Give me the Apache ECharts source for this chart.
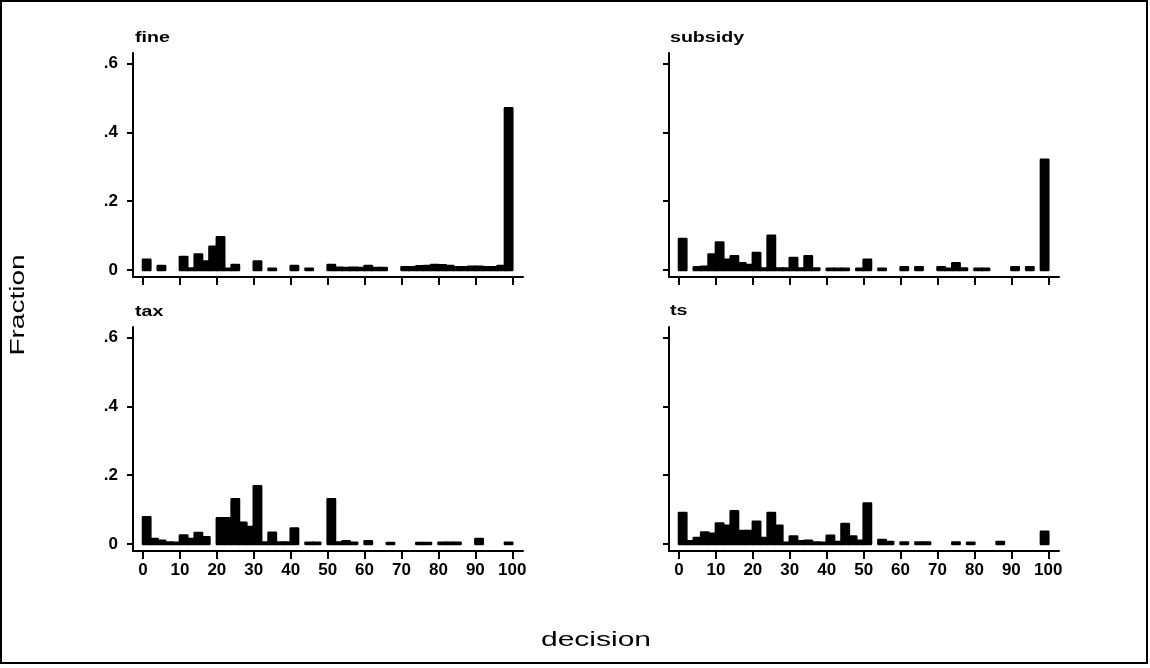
<!DOCTYPE html>
<html>
<head>
<meta charset="utf-8">
<title>decision</title>
<script src="https://cdn.jsdelivr.net/npm/echarts@6/dist/echarts.min.js"></script>
<style>
  html, body { margin: 0; padding: 0; background: #fff; }
  #chart { width: 1150px; height: 668px; }
</style>
</head>
<body>
<div id="chart"></div>
<script>
// histogram bins of width 2 over decision 0..100
var binStarts = [0, 2, 4, 6, 8, 10, 12, 14, 16, 18, 20, 22, 24, 26, 28, 30, 32, 34, 36, 38,
                 40, 42, 44, 46, 48, 50, 52, 54, 56, 58, 60, 62, 64, 66, 68, 70, 72, 74, 76, 78,
                 80, 82, 84, 86, 88, 90, 92, 94, 96, 98];
var binWidth = 2;
var xTicks = [0, 10, 20, 30, 40, 50, 60, 70, 80, 90, 100];
var yTicks = [0, 0.2, 0.4, 0.6];
var panelNames = ['fine', 'subsidy', 'tax', 'ts'];

var fine = [0.03, 0, 0.012, 0, 0, 0.038, 0.005, 0.045, 0.025, 0.068,
            0.095, 0.004, 0.015, 0, 0, 0.025, 0, 0.004, 0, 0,
            0.012, 0, 0.004, 0, 0, 0.015, 0.007, 0.006, 0.007, 0.006,
            0.012, 0.006, 0.006, 0, 0, 0.008, 0.008, 0.011, 0.012, 0.015,
            0.014, 0.012, 0.008, 0.008, 0.01, 0.01, 0.008, 0.008, 0.012, 0.47];
var subsidy = [0.09, 0, 0.008, 0.01, 0.045, 0.08, 0.03, 0.04, 0.02, 0.015,
               0.05, 0.005, 0.10, 0.005, 0.005, 0.035, 0.005, 0.04, 0.005, 0,
               0.004, 0.004, 0.004, 0, 0.004, 0.03, 0, 0.004, 0, 0,
               0.008, 0, 0.008, 0, 0, 0.008, 0.004, 0.02, 0.005, 0,
               0.004, 0.004, 0, 0, 0, 0.008, 0, 0.008, 0, 0.32];
var tax = [0.078, 0.015, 0.01, 0.005, 0.004, 0.025, 0.015, 0.032, 0.02, 0,
           0.075, 0.075, 0.13, 0.062, 0.05, 0.168, 0.005, 0.033, 0.005, 0.005,
           0.045, 0, 0.004, 0.004, 0, 0.13, 0.005, 0.008, 0.004, 0,
           0.008, 0, 0, 0.003, 0, 0, 0, 0.003, 0.003, 0,
           0.004, 0.004, 0.004, 0, 0, 0.015, 0, 0, 0, 0.004];
var ts = [0.09, 0.008, 0.018, 0.034, 0.03, 0.06, 0.053, 0.095, 0.038, 0.038,
          0.065, 0.018, 0.09, 0.053, 0.004, 0.022, 0.008, 0.01, 0.005, 0.004,
          0.024, 0.006, 0.058, 0.022, 0.01, 0.118, 0, 0.012, 0.006, 0,
          0.005, 0, 0.005, 0.005, 0, 0, 0, 0.005, 0, 0.004,
          0, 0, 0, 0.006, 0, 0, 0, 0, 0, 0.036];
var panelValues = [fine, subsidy, tax, ts];

var chart = echarts.init(document.getElementById('chart'));

var gridPos = [
  { left: 133, top: 53, width: 390, height: 224 },
  { left: 669, top: 53, width: 390, height: 224 },
  { left: 133, top: 327, width: 390, height: 224 },
  { left: 669, top: 327, width: 390, height: 224 }
];
var titlePos = [[135, 38], [670, 38], [135, 312], [670, 311]];

var labelFont = { fontFamily: 'Liberation Sans', fontWeight: 'bold', fontSize: 17, color: '#000' };
var black = { color: '#000', width: 2 };

function binData(values) {
  var out = [];
  for (var i = 0; i < binStarts.length; i++) {
    out.push([binStarts[i], binStarts[i] + binWidth, values[i]]);
  }
  return out;
}

function renderBar(params, api) {
  var h = api.value(2);
  if (!h) return;
  var p0 = api.coord([api.value(0), h]);
  var p1 = api.coord([api.value(1), 0]);
  return {
    type: 'rect',
    shape: { x: p0[0], y: p0[1], width: p1[0] - p0[0], height: p1[1] - p0[1] },
    style: { fill: '#000', stroke: '#000', lineWidth: 2.5, lineJoin: 'round' }
  };
}

var grids = [], xAxes = [], yAxes = [], series = [], graphics = [];
for (var i = 0; i < 4; i++) {
  grids.push(gridPos[i]);
  xAxes.push({
    gridIndex: i, type: 'value', min: -2.7, max: 102.9,
    axisLine: { show: true, onZero: false, lineStyle: black },
    axisTick: { show: true, customValues: xTicks, length: 8, lineStyle: black },
    axisLabel: Object.assign({ show: i >= 2, customValues: xTicks, margin: 11, interval: 0 }, labelFont),
    splitLine: { show: false }
  });
  yAxes.push({
    gridIndex: i, type: 'value', min: -0.02, max: 0.63,
    axisLine: { show: true, onZero: false, lineStyle: black },
    axisTick: { show: true, customValues: yTicks, length: 6, lineStyle: black },
    axisLabel: Object.assign({
      show: i % 2 === 0, customValues: yTicks, margin: 15,
      formatter: function (v) { return v === 0 ? '0' : String(v).replace(/^0/, ''); }
    }, labelFont),
    splitLine: { show: false }
  });
  series.push({
    type: 'custom', name: panelNames[i], xAxisIndex: i, yAxisIndex: i,
    renderItem: renderBar, encode: { x: [0, 1], y: 2 },
    data: binData(panelValues[i]), silent: true
  });
  graphics.push({
    type: 'text', x: titlePos[i][0], y: titlePos[i][1], scaleX: 1.4,
    style: { text: panelNames[i], font: 'bold 14px "Liberation Sans"', fill: '#000', textVerticalAlign: 'middle' }
  });
}

graphics.push({
  type: 'text', x: 596, y: 640, scaleX: 1.5,
  style: { text: 'decision', font: '20px "Liberation Sans"', fill: '#000', textAlign: 'center', textVerticalAlign: 'middle' }
});
graphics.push({
  type: 'text', x: 18, y: 305, rotation: Math.PI / 2, scaleX: 1.4,
  style: { text: 'Fraction', font: '20px "Liberation Sans"', fill: '#000', textAlign: 'center', textVerticalAlign: 'middle' }
});
graphics.push({
  type: 'rect', shape: { x: 1, y: 1, width: 1146, height: 662 },
  style: { fill: 'none', stroke: '#000', lineWidth: 2 }
});

chart.setOption({
  backgroundColor: '#fff',
  animation: false,
  grid: grids,
  xAxis: xAxes,
  yAxis: yAxes,
  series: series,
  graphic: graphics
});
</script>
</body>
</html>
